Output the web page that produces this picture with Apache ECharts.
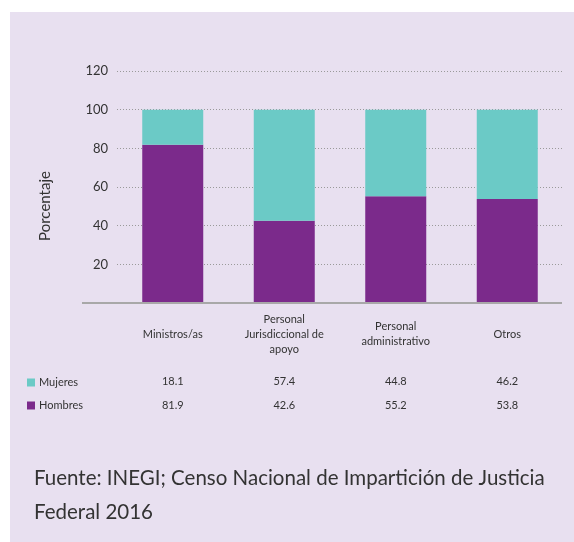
<!DOCTYPE html>
<html>
<head>
<meta charset="utf-8">
<script src="https://cdn.jsdelivr.net/npm/echarts@6/dist/echarts.min.js"></script>
<style>
html,body{margin:0;padding:0;background:#fff;}
#panel{position:absolute;left:10px;top:12px;width:564px;height:530px;background:#E8E0F0;}
#chart{position:absolute;left:0;top:0;width:574px;height:542px;}
</style>
</head>
<body>
<div id="panel"></div>
<div id="chart"></div>
<script>
var categories = ['Ministros/as', 'Personal\nJurisdiccional de\napoyo', 'Personal\nadministrativo', 'Otros'];
var mujeres = [18.1, 57.4, 44.8, 46.2];
var hombres = [81.9, 42.6, 55.2, 53.8];
var yTicks = [0, 20, 40, 60, 80, 100, 120];
var seriesNames = ['Mujeres', 'Hombres'];
var sourceText = 'Fuente: INEGI; Censo Nacional de Impartición de Justicia\nFederal 2016';
var yTitle = 'Porcentaje';

var FONT = 'Lato';
var chart = echarts.init(document.getElementById('chart'), null, {renderer: 'canvas'});

function tableAxis(vals, offset) {
  return {
    type: 'category',
    data: vals.map(function (v) { return v.toFixed(1); }),
    position: 'bottom',
    offset: offset,
    gridIndex: 0,
    axisLine: {show: false},
    axisTick: {show: false},
    splitLine: {show: false},
    axisLabel: {color: '#333', fontSize: 11, fontFamily: FONT, margin: 0, verticalAlign: 'middle'}
  };
}

var option = {
  animation: false,
  backgroundColor: 'transparent',
  textStyle: {fontFamily: FONT},
  grid: {left: 117, right: 11, top: 71, bottom: 239, containLabel: false},
  legend: {
    data: seriesNames,
    orient: 'vertical',
    left: 22,
    top: 372,
    itemWidth: 8,
    itemHeight: 8,
    itemGap: 12,
    icon: 'rect',
    textStyle: {color: '#333', fontSize: 11, fontFamily: FONT, padding: [0, 0, 0, -1]}
  },
  title: {
    text: sourceText,
    left: 29,
    top: 456,
    textStyle: {color: '#333', fontSize: 20.5, fontWeight: 'normal', fontFamily: FONT, lineHeight: 34}
  },
  xAxis: [
    {
      type: 'category',
      data: categories,
      axisLine: {show: false},
      axisTick: {show: false},
      axisLabel: {color: '#333', fontSize: 11, fontFamily: FONT, lineHeight: 15, margin: 31, verticalAlign: 'middle', interval: 0}
    },
    tableAxis(mujeres, 78),
    tableAxis(hombres, 102)
  ],
  yAxis: {
    type: 'value',
    min: 0,
    max: 120,
    interval: 20,
    axisLine: {show: false},
    axisTick: {show: false},
    axisLabel: {
      color: '#333', fontSize: 13, fontFamily: FONT, margin: 9,
      formatter: function (v) { return (yTicks.indexOf(v) >= 0 && v !== 0) ? String(v) : ''; }
    },
    splitLine: {lineStyle: {color: '#9a9a9a', type: [1, 2], width: 1}}
  },
  graphic: [
    {type: 'line', shape: {x1: 82, y1: 303, x2: 562, y2: 303}, style: {stroke: '#A8A8A8', lineWidth: 2}, z: 10},
    {type: 'text', x: 45, y: 206, rotation: Math.PI / 2,
     style: {text: yTitle, fill: '#333', fontSize: 15, fontFamily: FONT, align: 'center', verticalAlign: 'middle'}}
  ],
  series: [
    {name: 'Hombres', type: 'bar', stack: 't', data: hombres, barWidth: 61, itemStyle: {color: '#7B2A8B'}},
    {name: 'Mujeres', type: 'bar', stack: 't', data: mujeres, barWidth: 61, itemStyle: {color: '#6BCAC6'}}
  ]
};
chart.setOption(option);
</script>
</body>
</html>
